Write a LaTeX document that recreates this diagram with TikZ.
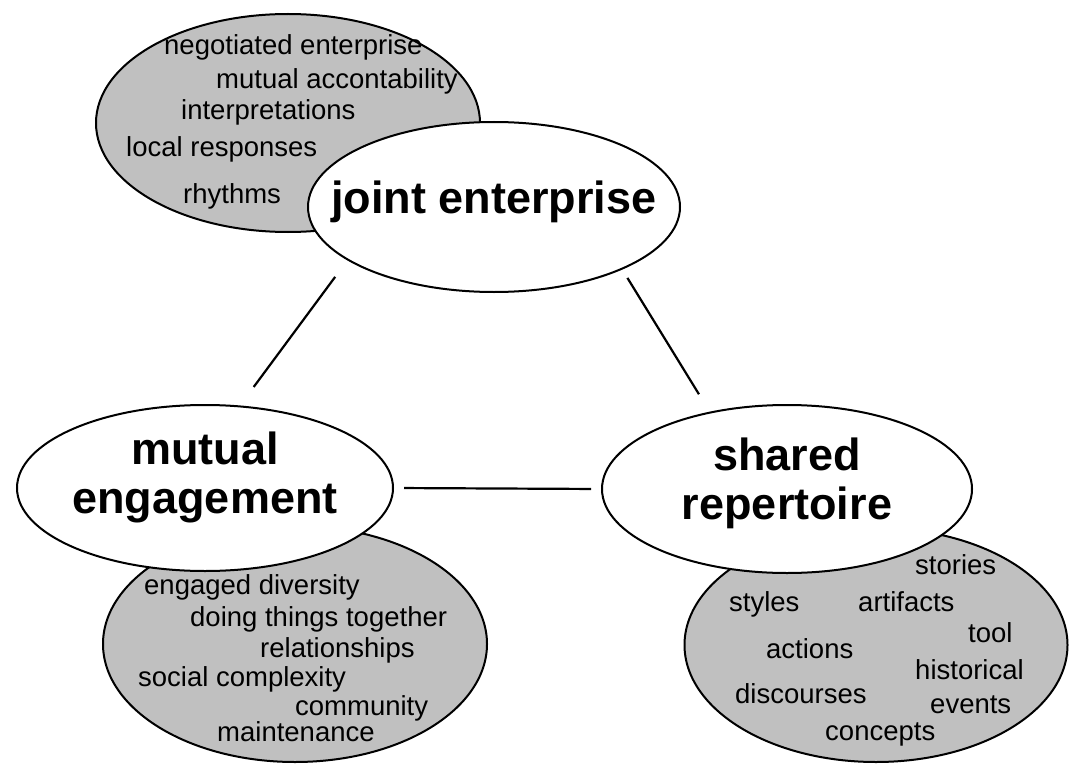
\documentclass[tikz,border=0pt]{standalone}
\usepackage{fontspec}
\setmainfont{Liberation Sans}
\usepackage{tikz}
\definecolor{cloud}{RGB}{192,192,192}
\usetikzlibrary{shapes}

\tikzset{
    detail/.style={ellipse, draw, line width=2pt, fill=cloud, inner sep=0pt},
    dimension/.style={ellipse, draw, line width=2pt, fill=white, inner sep=0pt},
    term/.style={font=\fontsize{45}{49}\selectfont\bfseries, align=center, inner sep=0pt},
    word/.style={font=\fontsize{27.5}{30}\selectfont, anchor=base west, inner sep=0pt},
    link/.style={line width=2.2pt},
}

\begin{document}
\begin{tikzpicture}[x=1pt,y=-1pt]
        \useasboundingbox (0,0) rectangle (1084,765);

        % grey clouds behind
        \node[detail, minimum width=384pt, minimum height=218pt] (enterprisecloud) at (288,123) {};
        \node[detail, minimum width=384pt, minimum height=236pt] (engagementcloud) at (295,644) {};
        \node[detail, minimum width=383pt, minimum height=234pt] (repertoirecloud) at (876,645) {};

        \node[word] (negotiated) at (164,55) {negotiated enterprise};
        \node[word] (accountability) at (216,89) {mutual accontability};
        \node[word] (interpretations) at (181,120) {interpretations};
        \node[word] (responses) at (126,157) {local responses};
        \node[word] (rhythms) at (183,203) {rhythms};

        \node[word] (diversity) at (144,594) {engaged diversity};
        \node[word] (together) at (190,626) {doing things together};
        \node[word] (relationships) at (260,657) {relationships};
        \node[word] (complexity) at (138,686) {social complexity};
        \node[word] (community) at (295,715) {community};
        \node[word] (maintenance) at (217,741) {maintenance};

        \node[word] (stories) at (915,574) {stories};
        \node[word] (styles) at (729,611) {styles};
        \node[word] (artifacts) at (858,611) {artifacts};
        \node[word] (tool) at (968,642) {tool};
        \node[word] (actions) at (766,658) {actions};
        \node[word] (historical) at (915,679) {historical};
        \node[word] (discourses) at (735,703) {discourses};
        \node[word] (events) at (930,713) {events};
        \node[word] (concepts) at (825,740) {concepts};

        % the three dimensions
        \node[dimension, minimum width=372pt, minimum height=170pt] (je) at (494,207) {};
        \node[dimension, minimum width=376pt, minimum height=166pt] (me) at (205,488) {};
        \node[dimension, minimum width=370pt, minimum height=168pt] (sr) at (787,489) {};

        \node[term] (jetext) at (494,202) {joint enterprise};
        \node[term] (metext) at (205,477) {mutual\\engagement};
        \node[term] (srtext) at (787,483) {shared\\repertoire};

        \draw[link, shorten <=20.5pt, shorten >=23pt] (je.200) -- (me.67);
        \draw[link, shorten <=9.8pt, shorten >=20.5pt] (je.334) -- (sr.135);
        \draw[link, shorten <=10pt, shorten >=10pt] (me.east) -- (sr.west);
    \end{tikzpicture}
\end{document}
